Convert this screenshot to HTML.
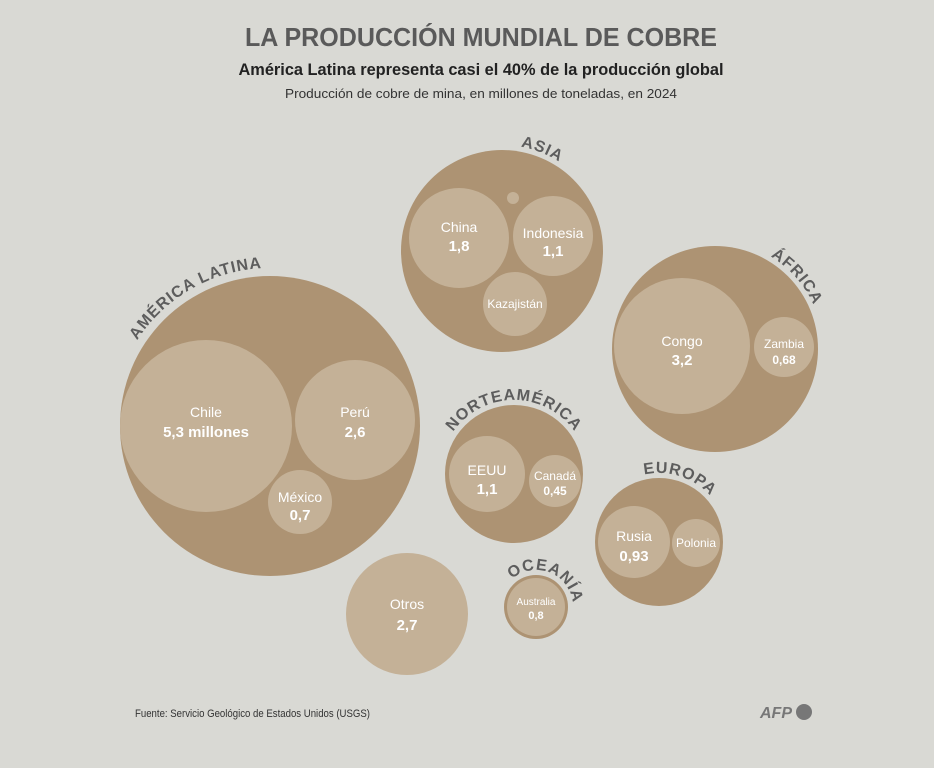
<!DOCTYPE html>
<html><head><meta charset="utf-8"><style>
body{margin:0;background:#d9d9d4;}
svg{display:block;font-family:"Liberation Sans",sans-serif;}
.in{fill:#c4b197}.out{fill:#ad9373}
.l{fill:#fff;font-size:14px;text-anchor:middle}
.v{fill:#fff;font-size:15px;font-weight:bold;text-anchor:middle}
.reg{fill:#5d5d5d;font-size:16px;font-weight:bold;letter-spacing:1px}
</style></head><body>
<svg width="934" height="768" viewBox="0 0 934 768">
<rect width="934" height="768" fill="#d9d9d4"/>
<text x="481" y="46" text-anchor="middle" font-size="26" font-weight="bold" fill="#5a5a5a" textLength="472" lengthAdjust="spacingAndGlyphs">LA PRODUCCIÓN MUNDIAL DE COBRE</text>
<text x="481" y="75" text-anchor="middle" font-size="17" font-weight="bold" fill="#222" textLength="485" lengthAdjust="spacingAndGlyphs">América Latina representa casi el 40% de la producción global</text>
<text x="481" y="98" text-anchor="middle" font-size="13" fill="#333" textLength="392" lengthAdjust="spacingAndGlyphs">Producción de cobre de mina, en millones de toneladas, en 2024</text>
<defs>
<path id="pAL" d="M112,426 A158,158 0 0 1 270,268 A158,158 0 0 1 428,426" transform="rotate(-30 270 426)"/>
<path id="pAS" d="M396,251 A106,106 0 0 1 608,251"/>
<path id="pAF" d="M607,349 A108,108 0 0 1 823,349"/>
<path id="pNA" d="M440,474 A74,74 0 0 1 588,474"/>
<path id="pEU" d="M590,542 A69,69 0 0 1 728,542"/>
<path id="pOC" d="M499,607 A37,37 0 0 1 573,607"/>
</defs>

<circle class="out" cx="270" cy="426" r="150"/>
<circle class="in" cx="206" cy="426" r="86"/>
<circle class="in" cx="355" cy="420" r="60"/>
<circle class="in" cx="300" cy="502" r="32"/>
<text class="l" x="206" y="417">Chile</text><text class="v" x="206" y="437">5,3 millones</text>
<text class="l" x="355" y="417">Perú</text><text class="v" x="355" y="437">2,6</text>
<text class="l" x="300" y="502">México</text><text class="v" x="300" y="520">0,7</text>

<circle class="in" cx="407" cy="614" r="61"/>
<text class="l" x="407" y="609">Otros</text><text class="v" x="407" y="630">2,7</text>

<circle class="out" cx="502" cy="251" r="101"/>
<circle class="in" cx="459" cy="238" r="50"/>
<circle class="in" cx="553" cy="236" r="40"/>
<circle class="in" cx="515" cy="304" r="32"/>
<circle class="in" cx="513" cy="198" r="6"/>
<text class="l" x="459" y="232">China</text><text class="v" x="459" y="251">1,8</text>
<text class="l" x="553" y="238">Indonesia</text><text class="v" x="553" y="256">1,1</text>
<text class="l" x="515" y="308" style="font-size:12px">Kazajistán</text>

<circle class="out" cx="715" cy="349" r="103"/>
<circle class="in" cx="682" cy="346" r="68"/>
<circle class="in" cx="784" cy="347" r="30"/>
<text class="l" x="682" y="346">Congo</text><text class="v" x="682" y="365">3,2</text>
<text class="l" x="784" y="348" style="font-size:12px">Zambia</text><text class="v" x="784" y="364" style="font-size:12px">0,68</text>

<circle class="out" cx="514" cy="474" r="69"/>
<circle class="in" cx="487" cy="474" r="38"/>
<circle class="in" cx="555" cy="481" r="26"/>
<text class="l" x="487" y="475">EEUU</text><text class="v" x="487" y="494">1,1</text>
<text class="l" x="555" y="480" style="font-size:12px">Canadá</text><text class="v" x="555" y="495" style="font-size:12px">0,45</text>

<circle class="out" cx="659" cy="542" r="64"/>
<circle class="in" cx="634" cy="542" r="36"/>
<circle class="in" cx="696" cy="543" r="24"/>
<text class="l" x="634" y="541">Rusia</text><text class="v" x="634" y="561">0,93</text>
<text class="l" x="696" y="547" style="font-size:12px">Polonia</text>

<circle class="out" cx="536" cy="607" r="32"/>
<circle class="in" cx="536" cy="607" r="29"/>
<text class="l" x="536" y="605" style="font-size:10px">Australia</text><text class="v" x="536" y="619" style="font-size:11px">0,8</text>

<text class="reg"><textPath href="#pAL" startOffset="50%" text-anchor="middle">AMÉRICA LATINA</textPath></text>
<text class="reg"><textPath href="#pAS" startOffset="62%" text-anchor="middle">ASIA</textPath></text>
<text class="reg"><textPath href="#pAF" startOffset="77%" text-anchor="middle">ÁFRICA</textPath></text>
<text class="reg"><textPath href="#pNA" startOffset="50%" text-anchor="middle">NORTEAMÉRICA</textPath></text>
<text class="reg"><textPath href="#pEU" startOffset="60%" text-anchor="middle">EUROPA</textPath></text>
<text class="reg"><textPath href="#pOC" startOffset="62%" text-anchor="middle">OCEANÍA</textPath></text>

<text x="135" y="717" font-size="11" fill="#333" textLength="235" lengthAdjust="spacingAndGlyphs">Fuente: Servicio Geológico de Estados Unidos (USGS)</text>
<text x="760" y="718" font-size="16" font-weight="bold" fill="#777" font-style="italic">AFP</text>
<circle cx="804" cy="712" r="8" fill="#777"/>
</svg>
</body></html>
